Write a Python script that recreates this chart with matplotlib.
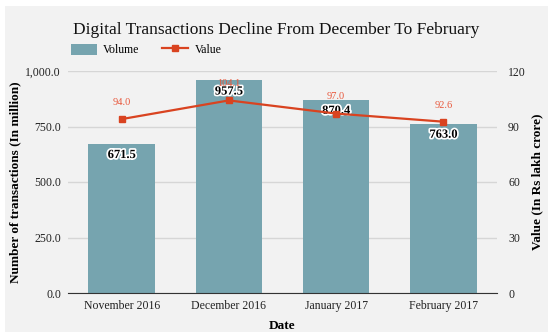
import numpy as np
import matplotlib.pyplot as plt
import matplotlib.patheffects as pe
from matplotlib.patches import Rectangle, Patch
from matplotlib.lines import Line2D
from matplotlib.ticker import FuncFormatter

plt.rcParams['font.family'] = ['Liberation Serif', 'DejaVu Serif']

dates = ['November 2016', 'December 2016', 'January 2017', 'February 2017']
volume = [671.5, 957.5, 870.4, 763.0]
value = [94.0, 104.1, 97.0, 92.6]

bar_col = '#76a4af'
line_col = '#d94320'
bg = '#f2f2f2'

fig = plt.figure(figsize=(5.53, 3.36), dpi=100)
fig.patch.set_facecolor('white')
fig.patches.append(Rectangle((5/553, 4/336), 543/553, 326/336, transform=fig.transFigure,
                             facecolor=bg, edgecolor='none', zorder=-10))

ax = fig.add_axes([68/553, 1 - 293/336, 429/553, 222/336])
ax.set_facecolor(bg)
x = np.arange(len(dates))

ax.bar(x, volume, width=0.62, color=bar_col, zorder=2)
ax.set_ylim(0, 1000)
ax.set_xlim(-0.5, 3.5)
ax.set_yticks([0, 250, 500, 750, 1000])
ax.yaxis.set_major_formatter(FuncFormatter(lambda v, p: f'{v:,.1f}'))
ax.grid(axis='y', color='#d6d6d6', linewidth=1, zorder=0)
ax.set_xticks(x)
ax.set_xticklabels(dates)
for s in ['top', 'right', 'left']:
    ax.spines[s].set_visible(False)
ax.spines['bottom'].set_color('#333333')
ax.tick_params(axis='both', length=0, labelsize=8.5, colors='#222222', pad=5)
ax.set_xlabel('Date', fontsize=9.5, fontweight='bold', labelpad=6)
ax.set_ylabel('Number of transactions (In million)', fontsize=9.5, fontweight='bold', labelpad=3)

for xi, v in zip(x, volume):
    ax.text(xi, v - 50, f'{v:.1f}', ha='center', va='center', fontsize=9, fontweight='bold',
            color='black', zorder=5,
            path_effects=[pe.withStroke(linewidth=2.5, foreground='white')])

ax2 = ax.twinx()
ax2.set_ylim(0, 120)
ax2.set_yticks([0, 30, 60, 90, 120])
ax2.plot(x, value, color=line_col, linewidth=1.6, marker='s', markersize=5, zorder=4)
for s in ['top', 'right', 'left', 'bottom']:
    ax2.spines[s].set_visible(False)
ax2.tick_params(axis='y', length=0, labelsize=8.5, colors='#222222', pad=8)
ax2.set_ylabel('Value (In Rs lakh crore)', fontsize=9.5, fontweight='bold', labelpad=4)

for xi, v in zip(x, value):
    ax2.text(xi, v + 9, f'{v:.1f}', ha='center', va='center', fontsize=7.5,
             color='#e8573b', zorder=6)

fig.text(0.5, 1 - 30/336, 'Digital Transactions Decline From December To February',
         ha='center', va='center', fontsize=12.5, color='#111111')

handles = [Patch(facecolor=bar_col, edgecolor='none'),
           Line2D([0], [0], color=line_col, linewidth=1.6, marker='s', markersize=4)]
fig.legend(handles, ['Volume', 'Value'], loc='center left', bbox_to_anchor=(60/553, 1 - 50/336),
           ncol=2, frameon=False, fontsize=8.5, handlelength=2.2, handleheight=1.1,
           columnspacing=2.0, handletextpad=0.5)

fig.savefig('out.png', dpi=100)
